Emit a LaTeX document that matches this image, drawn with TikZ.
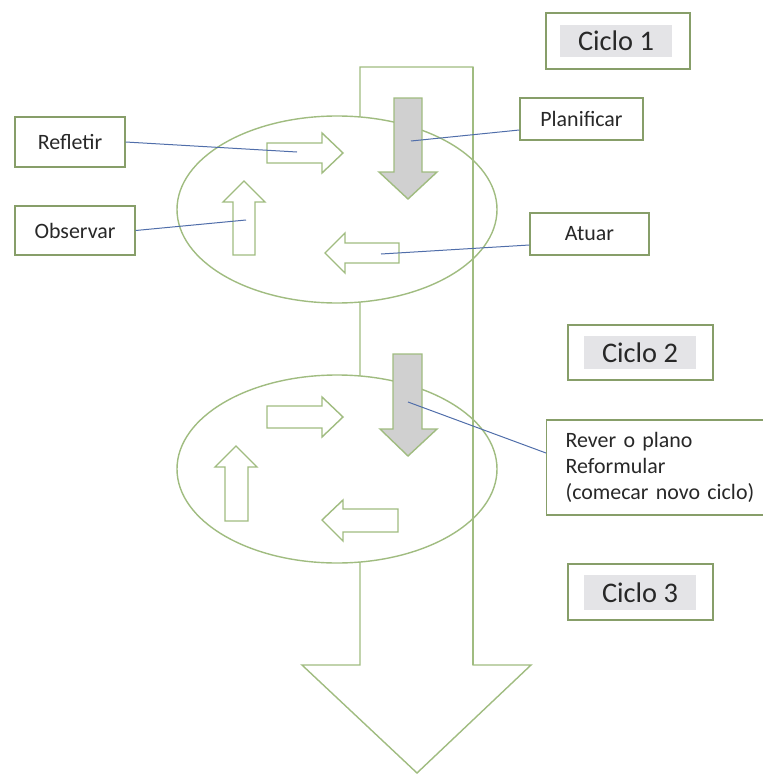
\documentclass[tikz,border=0pt]{standalone}
\usepackage{fontspec}
\setmainfont{Carlito}
\usetikzlibrary{calc}
\definecolor{shpc}{RGB}{160,188,128}
\definecolor{bordc}{RGB}{135,158,105}
\definecolor{connc}{RGB}{80,110,170}
\definecolor{grayf}{RGB}{208,208,208}
\definecolor{hlc}{RGB}{228,228,231}
\definecolor{txtc}{RGB}{40,40,40}
\begin{document}
\begin{tikzpicture}[x=1bp,y=-1bp,
  shp/.style={draw=shpc,line width=1.4bp,line join=miter},
  lbl/.style={draw=bordc,line width=1.3bp,fill=white,inner sep=0pt,
    font=\fontsize{22}{26.5}\selectfont,text=txtc},
  cycbox/.style={draw=bordc,line width=1.3bp,fill=white,inner sep=0pt},
  hlbox/.style={fill=hlc,inner sep=0pt,font=\fontsize{28.5}{30}\selectfont,text=txtc},
  conn/.style={draw=connc,line width=1bp}]
\useasboundingbox (0,0) rectangle (763,775);

% big arrow
\draw[shp,fill=white] (360,67) -- (473,67) -- (473,665) -- (531,665) -- (417,773) -- (302,665) -- (360,665) -- cycle;

% ellipses
\draw[shp,fill=white] (337,209.5) ellipse [x radius=160bp, y radius=93.5bp];
\draw[shp,fill=white] (337,469) ellipse [x radius=160bp, y radius=94bp];
\draw[shp] (473,67) -- (473,665);

% cycle 1 arrows
\draw[shp,fill=white] (267,143) -- (322,143) -- (322,133) -- (343,153) -- (322,173) -- (322,163) -- (267,163) -- cycle;
\draw[shp,fill=white] (233,255) -- (233,202) -- (223,202) -- (244,181) -- (265,202) -- (255,202) -- (255,255) -- cycle;
\draw[shp,fill=white] (399,243) -- (345,243) -- (345,233) -- (325,253) -- (345,273) -- (345,263) -- (399,263) -- cycle;
\draw[shp,fill=grayf] (394,98) -- (422,98) -- (422,172) -- (437,172) -- (408,199) -- (379,172) -- (394,172) -- cycle;

% cycle 2 arrows
\draw[shp,fill=white] (267,406) -- (322,406) -- (322,397) -- (343,417) -- (322,437) -- (322,428) -- (267,428) -- cycle;
\draw[shp,fill=white] (225,521) -- (225,467) -- (215,467) -- (236,446) -- (257,467) -- (248,467) -- (248,521) -- cycle;
\draw[shp,fill=white] (398,509) -- (343,509) -- (343,500) -- (322,520) -- (343,541) -- (343,532) -- (398,532) -- cycle;
\draw[shp,fill=grayf] (393,354) -- (422,354) -- (422,429) -- (437,429) -- (408,456) -- (380,429) -- (393,429) -- cycle;

% cycle labels
\node[cycbox,minimum width=144bp,minimum height=56bp] (c1) at (618,41) {};
\node[hlbox,minimum width=112bp,minimum height=32bp] (c1t) at (616,41) {Ciclo 1};
\node[cycbox,minimum width=145bp,minimum height=55bp] (c2) at (640.5,352.5) {};
\node[hlbox,minimum width=112bp,minimum height=33bp] (c2t) at (640,352.5) {Ciclo 2};
\node[cycbox,minimum width=145bp,minimum height=56bp] (c3) at (640.5,592) {};
\node[hlbox,minimum width=112bp,minimum height=35bp] (c3t) at (640,592.5) {Ciclo 3};

% text labels
\node[lbl,minimum width=110bp,minimum height=50bp] (refl) at (70,142) {Refletir};
\node[lbl,minimum width=120bp,minimum height=49bp] (obs) at (75,230.5) {Observar};
\node[lbl,minimum width=123bp,minimum height=42bp] (plan) at (581.5,119) {Planificar};
\node[lbl,minimum width=119bp,minimum height=42bp] (atuar) at (589.5,234) {Atuar};
\node[lbl,anchor=west,minimum height=95bp,text width=205bp,inner xsep=19bp,align=left] (rever) at (546,467.5)
  {Rever o plano\\Reformular\\(comecar novo ciclo)};

% connector end points
\coordinate (pRefl) at (297,152);
\coordinate (pObs) at (246,220);
\coordinate (pPlan) at (411,141);
\coordinate (pAtuar) at (381,254);
\coordinate (pRever) at (408,402);

\draw[conn] (refl.east) -- (pRefl);
\draw[conn] (obs.east) -- (pObs);
\draw[conn] ($(plan.west)+(0,11)$) -- (pPlan);
\draw[conn] ($(atuar.west)+(0,11)$) -- (pAtuar);
\draw[conn] ($(rever.west)+(0,-14.5)$) -- (pRever);
\end{tikzpicture}
\end{document}
